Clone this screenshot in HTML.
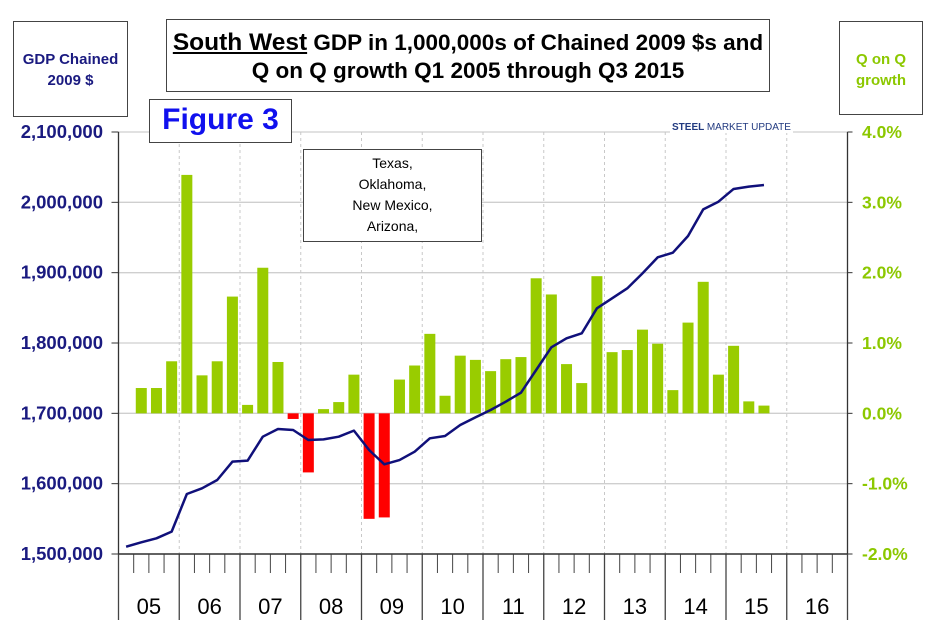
<!DOCTYPE html>
<html><head><meta charset="utf-8"><style>
body{margin:0;background:#fff;width:934px;height:639px;overflow:hidden;font-family:"Liberation Sans",Arial,sans-serif}
.box{position:absolute;border:1.5px solid #444;background:#fff;box-sizing:border-box;text-align:center}
</style></head><body>
<svg width="934" height="639" style="position:absolute;left:0;top:0" id="svg"></svg>
<div class="box" style="left:13px;top:21px;width:115px;height:96px;color:#1a1a80;font-weight:bold;font-size:15px;line-height:21px;padding-top:27px">GDP Chained<br>2009 $</div>
<div class="box" style="left:166px;top:19px;width:604px;height:73px;font-weight:bold;font-size:22.5px;line-height:28px;padding-top:9px;color:#000;white-space:nowrap"><span style="text-decoration:underline;font-size:24.5px">South West</span> GDP in 1,000,000s of Chained 2009 $s and<br>Q on Q growth Q1 2005 through Q3 2015</div>
<div class="box" style="left:839px;top:21px;width:84px;height:94px;color:#8cc800;font-weight:bold;font-size:15px;line-height:21px;padding-top:27px">Q on Q<br>growth</div>
<div class="box" style="left:149px;top:99px;width:143px;height:44px;color:#1010ee;font-weight:bold;font-size:30px;line-height:40px">Figure 3</div>
<div class="box" style="left:303px;top:149px;width:179px;height:93px;font-size:14px;line-height:21px;padding-top:3px;color:#000">Texas,<br>Oklahoma,<br>New Mexico,<br>Arizona,</div>
<div style="position:absolute;left:670px;top:122px;font-size:10px;font-weight:bold;color:#223a80;background:#fff;padding:0 2px">STEEL <span style="font-weight:normal">MARKET UPDATE</span></div>
<script>
const years=["05","06","07","08","09","10","11","12","13","14","15","16"];
const leftTicks=[1500000,1600000,1700000,1800000,1900000,2000000,2100000];
const rightTicks=[-2,-1,0,1,2,3,4];
const growth=[null,0.36,0.36,0.74,3.39,0.54,0.74,1.66,0.12,2.07,0.73,-0.08,-0.84,0.06,0.16,0.55,-1.50,-1.48,0.48,0.68,1.13,0.25,0.82,0.76,0.60,0.77,0.80,1.92,1.69,0.70,0.43,1.95,0.87,0.90,1.19,0.99,0.33,1.29,1.87,0.55,0.96,0.17,0.11];
const gdp=[1510400,1516600,1522300,1531800,1585300,1593400,1605200,1631300,1632700,1666800,1677700,1676300,1662100,1663000,1666800,1675400,1647900,1627500,1633600,1645500,1664500,1667800,1683400,1694300,1704700,1716600,1729400,1761600,1793800,1806600,1813700,1849300,1863500,1877700,1899000,1921800,1928400,1952100,1990000,2000900,2019000,2022300,2024600];
const X0=118.5,X1=847.5,Y0=554,Y1=132;
const qw=(X1-X0)/48;
const xq=i=>X0+(i+0.5)*qw;
const yL=v=>Y0-(v-1500000)/600000*(Y0-Y1);
const yR=v=>Y0-(v+2)/6*(Y0-Y1);
const svg=document.getElementById('svg');
const NS='http://www.w3.org/2000/svg';
function mk(t,a,p){const e=document.createElementNS(NS,t);for(const k in a)e.setAttribute(k,a[k]);(p||svg).appendChild(e);return e;}
leftTicks.forEach((v,i)=>{
 const g=mk('line',{x1:X0,x2:X1,y1:yL(v),y2:yL(v),stroke:'#cfcfcf','stroke-width':1.3});
 
 
 mk('line',{x1:X0-7,x2:X0,y1:yL(v),y2:yL(v),stroke:'#333'});
 mk('line',{x1:X1,x2:X1+5,y1:yL(v),y2:yL(v),stroke:'#333'});
 const t=mk('text',{x:103,y:yL(v)+6,'text-anchor':'end','font-size':18.5,'font-weight':'bold',fill:'#1a1a80'});
 t.textContent=v.toLocaleString('en-US');
 
 
});
rightTicks.forEach(v=>{
 const t=mk('text',{x:862,y:yR(v)+6,'font-size':17.5,'font-weight':'bold',fill:'#8cc800'});
 t.textContent=v.toFixed(1)+'%';
 
 
});
years.forEach((y,i)=>{
 const x=X0+i*4*qw;
 if(i>0)mk('line',{x1:x,x2:x,y1:Y1,y2:Y0,stroke:'#c8c8c8','stroke-dasharray':'3,3'});
 mk('line',{x1:x,x2:x,y1:Y0,y2:620,stroke:'#444','stroke-width':1.3});
 for(let q=1;q<4;q++){const xx=x+q*qw;mk('line',{x1:xx,x2:xx,y1:Y0,y2:573,stroke:'#444'});}
 const t=mk('text',{x:x+2*qw,y:614,'text-anchor':'middle','font-size':22,fill:'#000'});
 t.textContent=y;
 
 
});
mk('line',{x1:X1,x2:X1,y1:Y0,y2:620,stroke:'#444','stroke-width':1.3});
mk('line',{x1:X0,x2:X0,y1:Y1,y2:Y0,stroke:'#333','stroke-width':1.3});
mk('line',{x1:X1,x2:X1,y1:Y1,y2:Y0,stroke:'#333','stroke-width':1.3});
mk('line',{x1:X0,x2:X1,y1:Y0,y2:Y0,stroke:'#333','stroke-width':1.5});
growth.forEach((v,i)=>{
 if(v===null)return;
 const y0=yR(0),y=yR(v);
 const r=mk('rect',{x:xq(i)-5.5,width:11,y:Math.min(y,y0),height:Math.abs(y-y0),fill:v<0?'#ff0000':'#99cc00'});
 
 
});
const p=mk('polyline',{points:gdp.map((v,i)=>xq(i)+','+yL(v)).join(' '),fill:'none',stroke:'#10107a','stroke-width':2.5,'stroke-linejoin':'round'});


</script>
</body></html>
